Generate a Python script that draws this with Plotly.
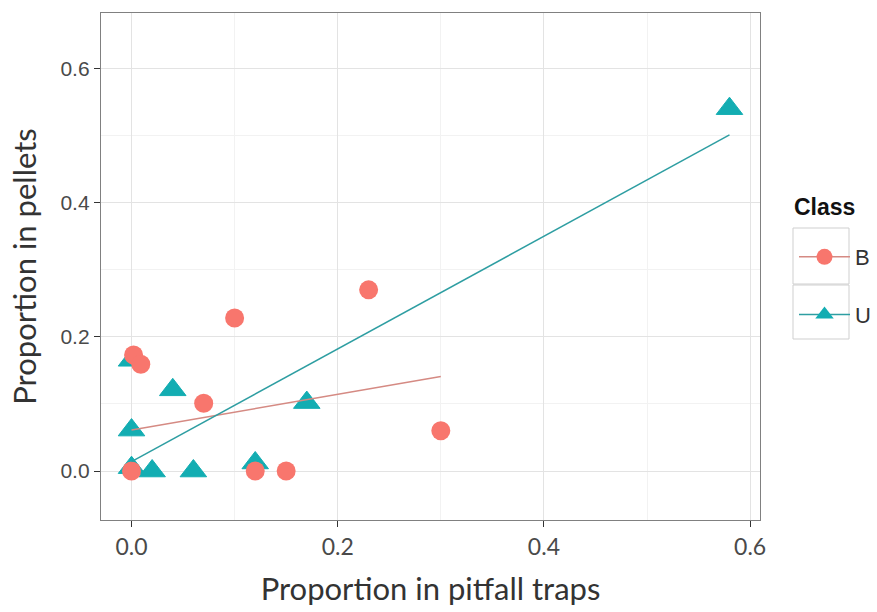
import plotly.graph_objects as go

# ---- data ----
b_x = [0.0, 0.002, 0.009, 0.07, 0.10, 0.12, 0.15, 0.23, 0.30]
b_y = [0.0, 0.173, 0.159, 0.101, 0.228, 0.0, 0.0, 0.27, 0.06]

u_x = [0.0, 0.0, 0.0, 0.02, 0.04, 0.06, 0.12, 0.17, 0.58]
u_y = [0.005, 0.165, 0.061, 0.0, 0.121, 0.0, 0.012, 0.102, 0.54]

b_fit_x = [0.0, 0.30]
b_fit_y = [0.061, 0.141]
u_fit_x = [0.0, 0.58]
u_fit_y = [0.014, 0.501]

tick_vals = [0.0, 0.2, 0.4, 0.6]
tick_text = ["0.0", "0.2", "0.4", "0.6"]

RED = "#F8766D"
TEAL = "#13ADB2"
RED_LINE = "#D58A83"
TEAL_LINE = "#2E9EA2"

fig = go.Figure()

fig.add_trace(go.Scatter(x=u_x, y=u_y, mode="markers", showlegend=False,
                         marker=dict(symbol="triangle-up", size=23, color=TEAL,
                                     line=dict(width=1, color=TEAL))))
fig.add_trace(go.Scatter(x=b_x, y=b_y, mode="markers", showlegend=False,
                         marker=dict(symbol="circle", size=19, color=RED,
                                     line=dict(width=0))))
fig.add_trace(go.Scatter(x=b_fit_x, y=b_fit_y, mode="lines", showlegend=False,
                         line=dict(color=RED_LINE, width=1.5)))
fig.add_trace(go.Scatter(x=u_fit_x, y=u_fit_y, mode="lines", showlegend=False,
                         line=dict(color=TEAL_LINE, width=1.5)))

# legend entries
fig.add_trace(go.Scatter(x=[None], y=[None], mode="lines+markers", name="B",
                         legendgroup="B",
                         marker=dict(symbol="circle", size=18, color=RED),
                         line=dict(color=RED_LINE, width=1.5)))
fig.add_trace(go.Scatter(x=[None], y=[None], mode="lines+markers", name="U",
                         legendgroup="U",
                         marker=dict(symbol="triangle-up", size=18, color=TEAL),
                         line=dict(color=TEAL_LINE, width=1.5)))

L, R, T, B = 101, 117, 13, 92
W, H = 877, 612
pw, ph = W - L - R, H - T - B

def px(x):
    return (x - L) / pw

def py(y):
    return (H - B - y) / ph

# legend key boxes
for top, bot in [(228, 284), (285, 339)]:
    fig.add_shape(type="rect", xref="paper", yref="paper",
                  x0=px(793), x1=px(849), y0=py(bot), y1=py(top),
                  line=dict(color="#cfcfcf", width=1), fillcolor="rgba(0,0,0,0)",
                  layer="below")

fig.add_annotation(text="<b>Class</b>", xref="paper", yref="paper",
                   x=px(792), y=py(207), xanchor="left", yanchor="middle",
                   showarrow=False,
                   font=dict(family="Liberation Sans", size=23, color="#111111"))

axis_common = dict(
    showline=True, mirror=True, linecolor="#808080", linewidth=1.3,
    ticks="outside", ticklen=6, tickwidth=1.3, tickcolor="#333333",
    showgrid=True, gridcolor="#E3E3E3", gridwidth=1,
    zeroline=False,
    tickvals=tick_vals, ticktext=tick_text,
)

fig.update_layout(
    width=W, height=H,
    margin=dict(l=L, r=R, t=T, b=B, autoexpand=False),
    paper_bgcolor="white", plot_bgcolor="white",
    xaxis=dict(range=[-0.0296, 0.6096],
               minor=dict(dtick=0.1, tick0=0, showgrid=True, gridcolor="#F2F2F2", ticks=""),
               tickfont=dict(family="Lato", size=23, color="#4a4a4a"),
               title=dict(text="Proportion in pitfall traps",
                          font=dict(family="Lato", size=31, color="#333333"),
                          standoff=19),
               **axis_common),
    yaxis=dict(range=[-0.073, 0.6826],
               minor=dict(dtick=0.1, tick0=0, showgrid=True, gridcolor="#F2F2F2", ticks=""),
               tickfont=dict(family="Liberation Sans", size=21, color="#4a4a4a"),
               title=dict(text="Proportion in pellets",
                          font=dict(family="Lato", size=31, color="#333333"),
                          standoff=14),
               **axis_common),
    legend=dict(
        x=px(794), xanchor="left", y=py(236), yanchor="top",
        bgcolor="rgba(0,0,0,0)", borderwidth=0,
        font=dict(family="Liberation Sans", size=22, color="#333333"),
        tracegroupgap=26, itemwidth=51,
        itemsizing="trace",
    ),
    showlegend=True,
)

fig.write_html("out.html")
